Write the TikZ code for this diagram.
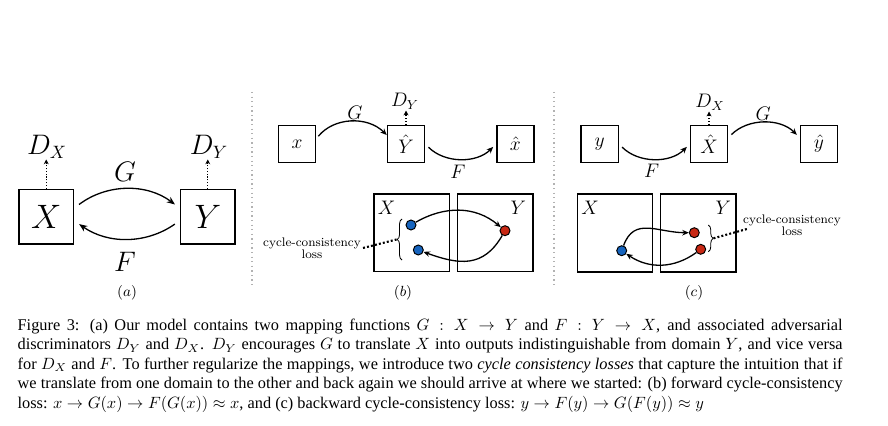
\documentclass[tikz,border=0pt]{standalone}
\usepackage{amsmath, amssymb}
\usepackage[no-math]{fontspec}
\newfontfamily\capfont{Liberation Serif}
\usepackage{tikz}
\usetikzlibrary{arrows.meta, positioning, calc, decorations.pathreplacing}

\definecolor{dotblue}{RGB}{22,100,190}
\definecolor{dotred}{RGB}{200,40,20}

\begin{document}
\begin{tikzpicture}[x=0.6125pt, y=-0.6125pt, >={Stealth[length=5pt,width=4pt]}, thick,
    bigbox/.style={draw, line width=0.9pt, minimum size=33.4pt, inner sep=0pt, font=\fontsize{19.5}{22}\selectfont},
    smallbox/.style={draw, line width=0.9pt, minimum size=22.7pt, inner sep=0pt, font=\fontsize{11.5}{13}\selectfont},
    domainbox/.style={draw, line width=0.9pt, minimum width=46.2pt, minimum height=47.5pt, inner sep=0pt},
    biglabel/.style={inner sep=0pt, font=\fontsize{16}{18}\selectfont},
    smalllabel/.style={inner sep=0pt, font=\fontsize{11.5}{13}\selectfont},
    sample/.style={circle, draw, line width=0.6pt, minimum size=6.1pt, inner sep=0pt},
    disc/.style={-{Stealth[length=3pt,width=3pt]}, densely dotted, line width=0.7pt},
    map/.style={-{Stealth[length=4pt,width=3.4pt]}},
    brc/.style={decorate, decoration={brace, amplitude=3pt}, line width=0.5pt},
    lossline/.style={line width=1.3pt, dash pattern=on 1.2pt off 1.3pt},
    sep/.style={gray!60, dotted, line width=0.8pt},
    losstext/.style={align=center, inner sep=1pt, font=\fontsize{7.6}{7.2}\selectfont},
    panel/.style={inner sep=0pt, font=\fontsize{9}{11}\selectfont},
    caption/.style={anchor=north west, inner sep=0pt, text width=505.3pt, align=justify,
                    font=\capfont\fontsize{10}{12}\selectfont}]
    \useasboundingbox (0,0) rectangle (888,426);

    % 1. (a) the two domains and the two mappings
    \node[bigbox] (Xa) at (46.2,216.7) {$X$};
    \node[bigbox] (Ya) at (207.8,216.7) {$Y$};
    \node[biglabel] (DXa) at (47,147) {$D_X$};
    \node[biglabel] (DYa) at (209,147) {$D_Y$};
    \draw[disc] (Xa.north) -- (Xa.north |- DXa.south);
    \draw[disc] (Ya.north) -- (Ya.north |- DYa.south);
    \node[biglabel] (Ga) at (125,172) {$G$};
    \node[biglabel] (Fa) at (125,262) {$F$};
    \draw[->, shorten <=3.7pt, shorten >=3.7pt] (Xa.17) to[bend left=37] (Ya.163);
    \draw[->, shorten <=3.7pt, shorten >=3.7pt] (Ya.188) to[bend left=35] (Xa.352);
    \node[panel] (pa) at (127,293) {$(a)$};

    % 2. separators
    \draw[sep] (252,92) -- (252,287);
    \draw[sep] (554,92) -- (554,287);

    % 3. (b) forward cycle
    \node[smallbox] (xb) at (297,144) {$x$};
    \node[smallbox] (Yhb) at (406,144) {$\hat{Y}$};
    \node[smallbox] (xhb) at (515.3,144) {$\hat{x}$};
    \node[smalllabel] (DYb) at (405,101.7) {$D_Y$};
    \draw[disc] (Yhb.north) -- (Yhb.north |- DYb.south);
    \node[smalllabel] (Gb) at (355,113) {$G$};
    \node[smalllabel] (Fb) at (458,171.7) {$F$};
    \draw[map, shorten <=2pt] (xb.15) to[bend left=48] (Yhb.155);
    \draw[map, shorten <=2.8pt, shorten >=2.5pt] (Yhb.east) to[bend right=45] (xhb.west);

    \node[domainbox] (XBb) at (411.7,232.9) {};
    \node[domainbox] (YBb) at (495.3,232.9) {};
    \node[smalllabel] (XLb) at (386.7,208.3) {$X$};
    \node[smalllabel] (YLb) at (518.3,208) {$Y$};
    \node[sample, fill=dotblue] (pb1) at (411,225) {};
    \node[sample, fill=dotblue] (pb2) at (418.3,250) {};
    \node[sample, fill=dotred] (qb) at (505,230.7) {};
    \draw[map] (pb1) to[out=30, in=140] (qb);
    \draw[map] (qb) to[out=-120, in=-20, looseness=1.2] (pb2);
    \coordinate (bb1) at (402,260);
    \coordinate (bb2) at (402,219);
    \coordinate (tipb) at (396.5,239.5);
    \draw[brc] (bb1) -- (bb2);
    \node[losstext] (lossb) at (312,248) {cycle-consistency\\loss};
    \draw[lossline] (lossb.east) -- (tipb);
    \node[panel] (pb) at (403,293) {$(b)$};

    % 4. (c) backward cycle
    \node[smallbox] (yc) at (599.7,144) {$y$};
    \node[smallbox] (Xhc) at (709,144) {$\hat{X}$};
    \node[smallbox] (yhc) at (819,144) {$\hat{y}$};
    \node[smalllabel] (DXc) at (710,102.7) {$D_X$};
    \draw[disc] (Xhc.north) -- (Xhc.north |- DXc.south);
    \node[smalllabel] (Fc) at (651.7,170.7) {$F$};
    \node[smalllabel] (Gc) at (763.3,114.3) {$G$};
    \draw[map, shorten <=2.7pt, shorten >=2.5pt] (yc.east) to[bend right=45] (Xhc.west);
    \draw[map, shorten <=2.7pt, shorten >=2.5pt] (Xhc.18) to[bend left=45] (yhc.162);

    \node[domainbox] (XBc) at (615,233) {};
    \node[domainbox] (YBc) at (698.2,233) {};
    \node[smalllabel] (XLc) at (590,208.3) {$X$};
    \node[smalllabel] (YLc) at (723.3,208.3) {$Y$};
    \node[sample, fill=dotblue] (pc) at (621.7,250.7) {};
    \node[sample, fill=dotred] (qc1) at (694.3,232.7) {};
    \node[sample, fill=dotred] (qc2) at (700.7,249.3) {};
    \draw[map] (pc) to[out=70, in=180, looseness=1.2] (qc1);
    \draw[map] (qc2) to[bend left=35] (pc);
    \coordinate (bc1) at (708.3,225);
    \coordinate (bc2) at (708.3,251.7);
    \coordinate (tipc) at (713.5,238.3);
    \draw[brc] (bc1) -- (bc2);
    \node[losstext] (lossc) at (792,225.5) {cycle-consistency\\loss};
    \draw[lossline] (tipc) -- ($(lossc.west)+(6,3.5)$);
    \node[panel] (pcl) at (694,293) {$(c)$};

    % 5. caption
    \node[caption] (cap) at (17,318) {Figure 3: (a) Our model contains two mapping functions $G : X \rightarrow Y$ and $F : Y \rightarrow X$, and associated adversarial\linebreak
    discriminators $D_Y$ and $D_X$. $D_Y$ encourages $G$ to translate $X$ into outputs indistinguishable from domain $Y$, and vice versa\linebreak
    for $D_X$ and $F$. To further regularize the mappings, we introduce two \textit{cycle consistency losses} that capture the intuition that if\linebreak
    we translate from one domain to the other and back again we should arrive at where we started: (b) forward cycle-consistency\linebreak
    loss: $x \rightarrow G(x) \rightarrow F(G(x)) \approx x$, and (c) backward cycle-consistency loss: $y \rightarrow F(y) \rightarrow G(F(y)) \approx y$};
\end{tikzpicture}
\end{document}
